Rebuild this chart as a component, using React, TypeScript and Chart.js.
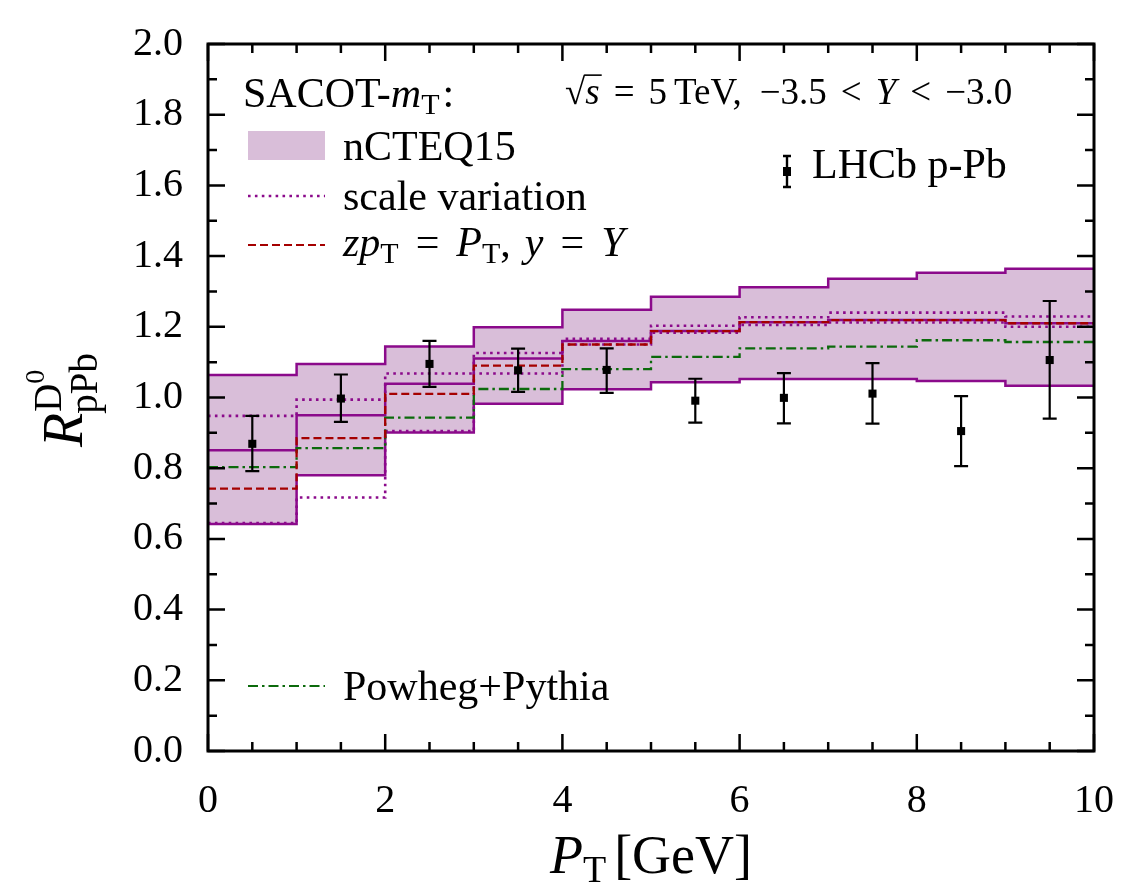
import React, { useEffect, useRef } from "react";
import { Chart, registerables } from "chart.js";

Chart.register(...registerables);

// P_T bin edges (GeV)
const binEdges = [0, 1, 2, 3, 4, 5, 6, 7, 8, 9, 10];

// SACOT-mT with nCTEQ15: PDF error band and central value, per bin
const nCTEQUpper = [1.064, 1.095, 1.144, 1.199, 1.248, 1.285, 1.312, 1.336, 1.353, 1.364];
const nCTEQLower = [0.642, 0.78, 0.901, 0.982, 1.023, 1.043, 1.052, 1.052, 1.047, 1.033];
const nCTEQCentral = [0.851, 0.95, 1.039, 1.11, 1.16, 1.188, 1.213, 1.219, 1.219, 1.21];

// scale variation envelope
const scaleUpper = [0.948, 0.994, 1.068, 1.126, 1.166, 1.203, 1.227, 1.24, 1.24, 1.229];
const scaleLower = [0.645, 0.717, 0.905, 1.068, 1.15, 1.183, 1.205, 1.212, 1.212, 1.2];

// fixed scale choice zpT = PT, y = Y
const fixedScale = [0.742, 0.885, 1.01, 1.09, 1.15, 1.188, 1.213, 1.219, 1.219, 1.21];

// Powheg+Pythia
const powhegPythia = [0.803, 0.857, 0.943, 1.024, 1.08, 1.115, 1.139, 1.144, 1.162, 1.157];

// LHCb p-Pb measurement
const lhcbPt = [0.5, 1.5, 2.5, 3.5, 4.5, 5.5, 6.5, 7.5, 8.5, 9.5];
const lhcbR = [0.869, 0.997, 1.095, 1.077, 1.078, 0.991, 0.999, 1.011, 0.905, 1.106];
const lhcbHigh = [0.948, 1.065, 1.16, 1.138, 1.139, 1.053, 1.069, 1.097, 1.004, 1.273];
const lhcbLow = [0.792, 0.931, 1.03, 1.016, 1.013, 0.929, 0.927, 0.926, 0.806, 0.94];

// axis ticks
const xTickValues = [0, 2, 4, 6, 8, 10];
const yTickValues = [0, 0.2, 0.4, 0.6, 0.8, 1.0, 1.2, 1.4, 1.6, 1.8, 2.0];
const xMinorStep = 0.5;
const yMinorStep = 0.1;

const FONT = '"Liberation Serif", "Times New Roman", serif';
const PURPLE = "#8b0a8b";
const BAND_FILL = "#d9bed9";
const RED = "#a50000";
const GREEN = "#0c6a0c";
const DOTS = [2.6, 4.3];
const DASHES = [8, 4];
const DASH_DOT = [10, 4, 2.5, 4];

function steps(values: number[]) {
  return binEdges.map((x, i) => ({ x, y: values[Math.min(i, values.length - 1)] }));
}

type Run = { t: string; size: number; italic?: boolean; dy?: number; dx?: number };

function drawRuns(ctx: CanvasRenderingContext2D, x: number, y: number, runs: Run[]) {
  let cx = x;
  for (const r of runs) {
    cx += r.dx ?? 0;
    ctx.font = `${r.italic ? "italic " : ""}${r.size}px ${FONT}`;
    ctx.fillText(r.t, cx, y + (r.dy ?? 0));
    cx += ctx.measureText(r.t).width;
  }
  return cx;
}

function runsWidth(ctx: CanvasRenderingContext2D, runs: Run[]) {
  let w = 0;
  for (const r of runs) {
    ctx.font = `${r.italic ? "italic " : ""}${r.size}px ${FONT}`;
    w += (r.dx ?? 0) + ctx.measureText(r.t).width;
  }
  return w;
}

function legendLine(ctx: CanvasRenderingContext2D, y: number, color: string, dash: number[], width: number) {
  ctx.save();
  ctx.strokeStyle = color;
  ctx.lineWidth = width;
  ctx.setLineDash(dash);
  ctx.beginPath();
  ctx.moveTo(248, y);
  ctx.lineTo(325, y);
  ctx.stroke();
  ctx.restore();
}

const decorPlugin = {
  id: "decor",
  afterDatasetsDraw(chart: any) {
    const { ctx, chartArea: a } = chart;
    const xs = chart.scales.x;
    const ys = chart.scales.y;
    ctx.save();
    // error bars of the measurement
    ctx.strokeStyle = "#000";
    ctx.lineWidth = 2.2;
    ctx.beginPath();
    lhcbPt.forEach((pt, i) => {
      const px = xs.getPixelForValue(pt);
      const top = ys.getPixelForValue(lhcbHigh[i]);
      const bot = ys.getPixelForValue(lhcbLow[i]);
      ctx.moveTo(px, top);
      ctx.lineTo(px, bot);
      ctx.moveTo(px - 7, top);
      ctx.lineTo(px + 7, top);
      ctx.moveTo(px - 7, bot);
      ctx.lineTo(px + 7, bot);
    });
    ctx.stroke();

    // inward tick marks on all four sides
    ctx.lineWidth = 2.5;
    ctx.beginPath();
    const yMax = yTickValues[yTickValues.length - 1];
    const xMax = xTickValues[xTickValues.length - 1];
    const yMajor = yTickValues[1] - yTickValues[0];
    const xMajor = xTickValues[1] - xTickValues[0];
    for (let k = 0; k * yMinorStep <= yMax + 1e-9; k++) {
      const v = k * yMinorStep;
      const py = ys.getPixelForValue(v);
      const major = Math.abs(v / yMajor - Math.round(v / yMajor)) < 1e-6;
      const len = major ? 17 : 9;
      ctx.moveTo(a.left, py);
      ctx.lineTo(a.left + len, py);
      ctx.moveTo(a.right, py);
      ctx.lineTo(a.right - len, py);
    }
    for (let k = 0; k * xMinorStep <= xMax + 1e-9; k++) {
      const v = k * xMinorStep;
      const px = xs.getPixelForValue(v);
      const major = Math.abs(v / xMajor - Math.round(v / xMajor)) < 1e-6;
      const len = major ? 17 : 9;
      ctx.moveTo(px, a.bottom);
      ctx.lineTo(px, a.bottom - len);
      ctx.moveTo(px, a.top);
      ctx.lineTo(px, a.top + len);
    }
    ctx.stroke();
    ctx.lineWidth = 3;
    ctx.strokeRect(a.left, a.top, a.right - a.left, a.bottom - a.top);
    ctx.restore();
  },
  afterDraw(chart: any) {
    const { ctx, chartArea: a } = chart;
    ctx.save();
    ctx.fillStyle = "#000";
    ctx.textBaseline = "alphabetic";
    ctx.textAlign = "left";

    const L = 42;
    const S = 30;
    drawRuns(ctx, 243, 107, [
      { t: "SACOT-", size: L },
      { t: "m", size: L, italic: true },
      { t: "T", size: S, dy: 7 },
      { t: ":", size: L, dx: 3 },
    ]);

    // band swatch
    ctx.fillStyle = BAND_FILL;
    ctx.fillRect(248, 131, 77, 29);
    ctx.fillStyle = "#000";
    drawRuns(ctx, 343, 160, [{ t: "nCTEQ15", size: L }]);

    legendLine(ctx, 196, PURPLE, DOTS, 2.6);
    drawRuns(ctx, 343, 210, [{ t: "scale variation", size: L }]);

    legendLine(ctx, 245, RED, DASHES, 2.2);
    drawRuns(ctx, 343, 256, [
      { t: "z", size: L, italic: true },
      { t: "p", size: L, italic: true },
      { t: "T", size: S, dy: 7 },
      { t: "=", size: L, dx: 17 },
      { t: "P", size: L, italic: true, dx: 17 },
      { t: "T", size: S, dy: 7 },
      { t: ",", size: L },
      { t: "y", size: L, italic: true, dx: 14 },
      { t: "=", size: L, dx: 17 },
      { t: "Y", size: L, italic: true, dx: 17 },
    ]);

    legendLine(ctx, 686, GREEN, DASH_DOT, 2.2);
    drawRuns(ctx, 343, 700, [{ t: "Powheg+Pythia", size: L }]);

    // kinematics label
    const K = 37;
    const B = 104;
    const rootEnd = drawRuns(ctx, 565, B, [{ t: "\u221A", size: K }]);
    const sEnd = drawRuns(ctx, rootEnd, B, [{ t: "s", size: K, italic: true }]);
    ctx.lineWidth = 1.6;
    ctx.strokeStyle = "#000";
    ctx.beginPath();
    ctx.moveTo(rootEnd - 1, B - K * 0.78);
    ctx.lineTo(sEnd + 2, B - K * 0.78);
    ctx.stroke();
    drawRuns(ctx, sEnd, B, [
      { t: "=", size: K, dx: 14 },
      { t: "5", size: K, dx: 14 },
      { t: "TeV,", size: K, dx: 7 },
      { t: "\u22123.5", size: K, dx: 18 },
      { t: "<", size: K, dx: 14 },
      { t: "Y", size: K, italic: true, dx: 14 },
      { t: "<", size: K, dx: 14 },
      { t: "\u22123.0", size: K, dx: 14 },
    ]);

    // measurement legend entry
    ctx.lineWidth = 2.4;
    ctx.beginPath();
    ctx.moveTo(787, 156);
    ctx.lineTo(787, 187);
    ctx.moveTo(783, 156);
    ctx.lineTo(791, 156);
    ctx.moveTo(783, 187);
    ctx.lineTo(791, 187);
    ctx.stroke();
    ctx.fillRect(783, 167, 8, 9);
    drawRuns(ctx, 812, 178, [{ t: "LHCb p-Pb", size: L }]);

    // x-axis title
    const T = 54;
    const xTitle: Run[] = [
      { t: "P", size: T, italic: true },
      { t: "T", size: 38, dy: 9 },
      { t: "[GeV]", size: T, dx: 8 },
    ];
    const w = runsWidth(ctx, xTitle);
    drawRuns(ctx, (a.left + a.right) / 2 - w / 2, 873, xTitle);

    // y-axis title, rotated
    ctx.save();
    ctx.translate(82, 447);
    ctx.rotate(-Math.PI / 2);
    const rEnd = drawRuns(ctx, 0, 0, [{ t: "R", size: 56, italic: true }]);
    const dEnd = drawRuns(ctx, rEnd + 1, -21, [{ t: "D", size: 39 }]);
    drawRuns(ctx, dEnd, -38, [{ t: "0", size: 28 }]);
    drawRuns(ctx, rEnd - 1, 15, [{ t: "pPb", size: 39 }]);
    ctx.restore();

    ctx.restore();
  },
};

export default function App() {
  const ref = useRef<HTMLCanvasElement>(null);

  useEffect(() => {
    const lineBase = {
      type: "line" as const,
      stepped: "before" as const,
      pointRadius: 0,
      fill: false,
      borderCapStyle: "butt" as const,
    };
    const chart = new Chart(ref.current!, {
      type: "line",
      data: {
        datasets: [
          {
            ...lineBase,
            label: "nCTEQ15 lower",
            data: steps(nCTEQLower),
            borderColor: PURPLE,
            borderWidth: 2.5,
            order: 6,
          },
          {
            ...lineBase,
            label: "nCTEQ15 upper",
            data: steps(nCTEQUpper),
            borderColor: PURPLE,
            borderWidth: 2.5,
            backgroundColor: BAND_FILL,
            fill: 0,
            order: 6,
          },
          {
            ...lineBase,
            label: "nCTEQ15",
            data: steps(nCTEQCentral),
            borderColor: PURPLE,
            borderWidth: 2.5,
            order: 5,
          },
          {
            ...lineBase,
            label: "scale variation upper",
            data: steps(scaleUpper),
            borderColor: PURPLE,
            borderWidth: 2.6,
            borderDash: DOTS,
            order: 4,
          },
          {
            ...lineBase,
            label: "scale variation lower",
            data: steps(scaleLower),
            borderColor: PURPLE,
            borderWidth: 2.6,
            borderDash: DOTS,
            order: 4,
          },
          {
            ...lineBase,
            label: "Powheg+Pythia",
            data: steps(powhegPythia),
            borderColor: GREEN,
            borderWidth: 2.3,
            borderDash: DASH_DOT,
            order: 3,
          },
          {
            ...lineBase,
            label: "zpT = PT, y = Y",
            data: steps(fixedScale),
            borderColor: RED,
            borderWidth: 2.3,
            borderDash: DASHES,
            order: 2,
          },
          {
            type: "line",
            label: "LHCb p-Pb",
            data: lhcbPt.map((x, i) => ({ x, y: lhcbR[i] })),
            showLine: false,
            pointStyle: "rect",
            pointRadius: 5.7,
            pointBackgroundColor: "#000",
            pointBorderWidth: 0,
            order: 0,
          },
        ],
      },
      options: {
        animation: false,
        responsive: false,
        devicePixelRatio: 1,
        events: [],
        layout: { padding: { left: 0, top: 44, right: 33, bottom: 0 } },
        plugins: {
          legend: { display: false },
          tooltip: { enabled: false },
          filler: { drawTime: "beforeDatasetsDraw" },
        },
        scales: {
          x: {
            type: "linear",
            min: xTickValues[0],
            max: xTickValues[xTickValues.length - 1],
            grid: { display: false, drawTicks: false },
            border: { display: false },
            afterBuildTicks: (s: any) => {
              s.ticks = xTickValues.map((v) => ({ value: v }));
            },
            afterFit: (s: any) => {
              s.height = 140;
              s.paddingLeft = 0;
              s.paddingRight = 0;
              s.paddingTop = 0;
              s.paddingBottom = 0;
            },
            ticks: {
              autoSkip: false,
              maxRotation: 0,
              padding: 26,
              color: "#000",
              font: { family: FONT, size: 40 },
              callback: (v: any) => String(v),
            },
          },
          y: {
            type: "linear",
            min: yTickValues[0],
            max: yTickValues[yTickValues.length - 1],
            grid: { display: false, drawTicks: false },
            border: { display: false },
            afterBuildTicks: (s: any) => {
              s.ticks = yTickValues.map((v) => ({ value: v }));
            },
            afterFit: (s: any) => {
              s.width = 208;
              s.paddingLeft = 0;
              s.paddingRight = 0;
              s.paddingTop = 0;
              s.paddingBottom = 0;
            },
            ticks: {
              autoSkip: false,
              padding: 25,
              color: "#000",
              font: { family: FONT, size: 40 },
              callback: (v: any) => Number(v).toFixed(1),
            },
          },
        },
      },
      plugins: [decorPlugin],
    } as any);
    return () => chart.destroy();
  }, []);

  return (
    <div style={{ position: "absolute", left: 0, top: 0, width: 1127, height: 891, background: "#fff" }}>
      <canvas ref={ref} width={1127} height={891} style={{ display: "block" }} />
    </div>
  );
}
